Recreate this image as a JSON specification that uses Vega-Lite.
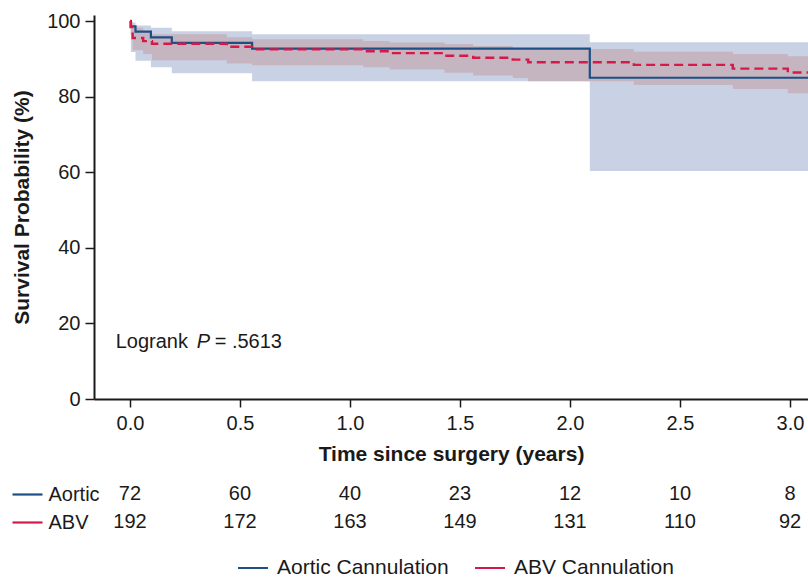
{
  "$schema": "https://vega.github.io/schema/vega-lite/v6.json",
  "padding": {"left": 10, "top": 11, "right": 0, "bottom": 0},
  "autosize": {"type": "pad"},
  "spacing": 16,
  "config": {
    "view": {"stroke": null},
    "font": "Liberation Sans",
    "axis": {
      "labelFont": "Liberation Sans", "titleFont": "Liberation Sans",
      "labelColor": "#1a1a1a", "titleColor": "#1a1a1a",
      "domainColor": "#1a1a1a", "tickColor": "#1a1a1a",
      "grid": false, "labelFontSize": 20, "titleFontSize": 21,
      "titleFontWeight": "bold", "domainWidth": 2, "tickWidth": 1.5
    },
    "text": {"font": "Liberation Sans", "fontSize": 20, "color": "#1a1a1a"}
  },
  "datasets": {
    "km": [
      {"g": "Aortic Cannulation", "t": 0, "s": 100, "lo": 100, "hi": 100},
      {"g": "Aortic Cannulation", "t": 0.004, "s": 98.6, "lo": 91.8, "hi": 99.6},
      {"g": "Aortic Cannulation", "t": 0.025, "s": 97.2, "lo": 89.5, "hi": 98.8},
      {"g": "Aortic Cannulation", "t": 0.095, "s": 95.7, "lo": 87.8, "hi": 98.2},
      {"g": "Aortic Cannulation", "t": 0.19, "s": 94.2, "lo": 86.2, "hi": 97.3},
      {"g": "Aortic Cannulation", "t": 0.555, "s": 92.7, "lo": 84.1, "hi": 96.5},
      {"g": "Aortic Cannulation", "t": 2.09, "s": 85.0, "lo": 60.3, "hi": 94.4},
      {"g": "Aortic Cannulation", "t": 3.1, "s": 85.0, "lo": 60.3, "hi": 94.4},
      {"g": "ABV Cannulation", "t": 0, "s": 100, "lo": 100, "hi": 100},
      {"g": "ABV Cannulation", "t": 0.003, "s": 98.4, "lo": 96.3, "hi": 99.9},
      {"g": "ABV Cannulation", "t": 0.012, "s": 95.5, "lo": 92.3, "hi": 98.2},
      {"g": "ABV Cannulation", "t": 0.06, "s": 94.7, "lo": 91.3, "hi": 97.4},
      {"g": "ABV Cannulation", "t": 0.1, "s": 94.0, "lo": 89.6, "hi": 96.5},
      {"g": "ABV Cannulation", "t": 0.44, "s": 93.2, "lo": 88.8, "hi": 95.7},
      {"g": "ABV Cannulation", "t": 0.555, "s": 92.5, "lo": 88.3, "hi": 95.2},
      {"g": "ABV Cannulation", "t": 1.06, "s": 92.0, "lo": 87.8, "hi": 94.7},
      {"g": "ABV Cannulation", "t": 1.18, "s": 91.5, "lo": 87.2, "hi": 94.3},
      {"g": "ABV Cannulation", "t": 1.43, "s": 90.8, "lo": 86.3, "hi": 93.9},
      {"g": "ABV Cannulation", "t": 1.56, "s": 90.3, "lo": 85.6, "hi": 93.4},
      {"g": "ABV Cannulation", "t": 1.74, "s": 89.8, "lo": 84.9, "hi": 92.9},
      {"g": "ABV Cannulation", "t": 1.81, "s": 89.1, "lo": 84.1, "hi": 92.6},
      {"g": "ABV Cannulation", "t": 2.29, "s": 88.4, "lo": 83.1, "hi": 91.9},
      {"g": "ABV Cannulation", "t": 2.74, "s": 87.4, "lo": 82.0, "hi": 91.3},
      {"g": "ABV Cannulation", "t": 2.99, "s": 86.4, "lo": 80.9, "hi": 90.7},
      {"g": "ABV Cannulation", "t": 3.1, "s": 86.4, "lo": 80.9, "hi": 90.7}
    ],
    "risk": [
      {"group": "Aortic", "t": 0, "n": 72},
      {"group": "Aortic", "t": 0.5, "n": 60},
      {"group": "Aortic", "t": 1.0, "n": 40},
      {"group": "Aortic", "t": 1.5, "n": 23},
      {"group": "Aortic", "t": 2.0, "n": 12},
      {"group": "Aortic", "t": 2.5, "n": 10},
      {"group": "Aortic", "t": 3.0, "n": 8},
      {"group": "ABV", "t": 0, "n": 192},
      {"group": "ABV", "t": 0.5, "n": 172},
      {"group": "ABV", "t": 1.0, "n": 163},
      {"group": "ABV", "t": 1.5, "n": 149},
      {"group": "ABV", "t": 2.0, "n": 131},
      {"group": "ABV", "t": 2.5, "n": 110},
      {"group": "ABV", "t": 3.0, "n": 92}
    ],
    "note": [{"t": -0.065, "v": 15}]
  },
  "vconcat": [
    {
      "width": 714,
      "height": 384,
      "encoding": {
        "x": {
          "field": "t", "type": "quantitative",
          "scale": {"domain": [-0.1636, 3.0818], "nice": false, "zero": false},
          "axis": {"values": [0, 0.5, 1, 1.5, 2, 2.5, 3], "format": ".1f", "title": "Time since surgery (years)", "tickSize": 8, "labelPadding": 6, "titlePadding": 10}
        }
      },
      "layer": [
        {
          "data": {"name": "km"},
          "transform": [{"filter": "datum.g === 'Aortic Cannulation'"}],
          "mark": {"type": "area", "interpolate": "step-after", "color": "#c9d2e4", "clip": true},
          "encoding": {
            "y": {"field": "lo", "type": "quantitative", "scale": {"domain": [0, 101.6], "nice": false},
                  "axis": {"values": [0, 20, 40, 60, 80, 100], "title": "Survival Probability (%)", "tickSize": 9, "labelPadding": 5, "titlePadding": 14}},
            "y2": {"field": "hi"}
          }
        },
        {
          "data": {"name": "km"},
          "transform": [{"filter": "datum.g === 'ABV Cannulation'"}],
          "mark": {"type": "area", "interpolate": "step-after", "color": "#c0979c", "opacity": 0.5, "clip": true},
          "encoding": {
            "y": {"field": "lo", "type": "quantitative"},
            "y2": {"field": "hi"}
          }
        },
        {
          "data": {"name": "km"},
          "transform": [{"filter": "datum.g === 'Aortic Cannulation'"}],
          "mark": {"type": "line", "interpolate": "step-after", "strokeWidth": 2.2, "clip": true},
          "encoding": {
            "y": {"field": "s", "type": "quantitative"},
            "color": {
              "field": "g", "type": "nominal",
              "scale": {"domain": ["Aortic Cannulation", "ABV Cannulation"], "range": ["#1d4f85", "#d7194a"]},
              "legend": {
                "orient": "none", "legendX": 143, "legendY": 537, "direction": "horizontal",
                "title": null, "symbolType": "stroke", "symbolSize": 900, "symbolStrokeWidth": 2,
                "symbolDash": [1, 0], "labelFontSize": 21, "labelFont": "Liberation Sans",
                "labelColor": "#1a1a1a", "columnPadding": 22, "labelOffset": 8, "labelLimit": 400
              }
            }
          }
        },
        {
          "data": {"name": "km"},
          "transform": [{"filter": "datum.g === 'ABV Cannulation'"}],
          "mark": {"type": "line", "interpolate": "step-after", "strokeWidth": 2.4, "strokeDash": [9, 5], "clip": true},
          "encoding": {
            "y": {"field": "s", "type": "quantitative"},
            "color": {"field": "g", "type": "nominal"}
          }
        },
        {
          "data": {"name": "note"},
          "mark": {"type": "text", "text": "Logrank", "align": "left", "baseline": "middle"},
          "encoding": {"y": {"field": "v", "type": "quantitative"}}
        },
        {
          "data": {"name": "note"},
          "mark": {"type": "text", "text": "P", "align": "left", "baseline": "middle", "fontStyle": "italic", "dx": 81},
          "encoding": {"y": {"field": "v", "type": "quantitative"}}
        },
        {
          "data": {"name": "note"},
          "mark": {"type": "text", "text": "= .5613", "align": "left", "baseline": "middle", "dx": 99},
          "encoding": {"y": {"field": "v", "type": "quantitative"}}
        }
      ]
    },
    {
      "width": 714,
      "height": 56,
      "data": {"name": "risk"},
      "mark": {"type": "text", "align": "center", "baseline": "middle"},
      "encoding": {
        "x": {"field": "t", "type": "quantitative", "scale": {"domain": [-0.1636, 3.0818], "nice": false, "zero": false}, "axis": null},
        "y": {
          "field": "group", "type": "nominal",
          "scale": {"type": "point", "domain": ["Aortic", "ABV"], "padding": 0.5},
          "axis": {
            "title": null, "orient": "left", "offset": 52, "domain": false,
            "tickSize": 30, "tickWidth": 2.2,
            "tickColor": {"condition": {"test": "datum.value === 'Aortic'", "value": "#1d4f85"}, "value": "#d7194a"},
            "labelAlign": "left", "labelPadding": -36, "labelFontSize": 20, "labelBaseline": "middle"
          }
        },
        "text": {"field": "n", "type": "quantitative"}
      }
    }
  ]
}
